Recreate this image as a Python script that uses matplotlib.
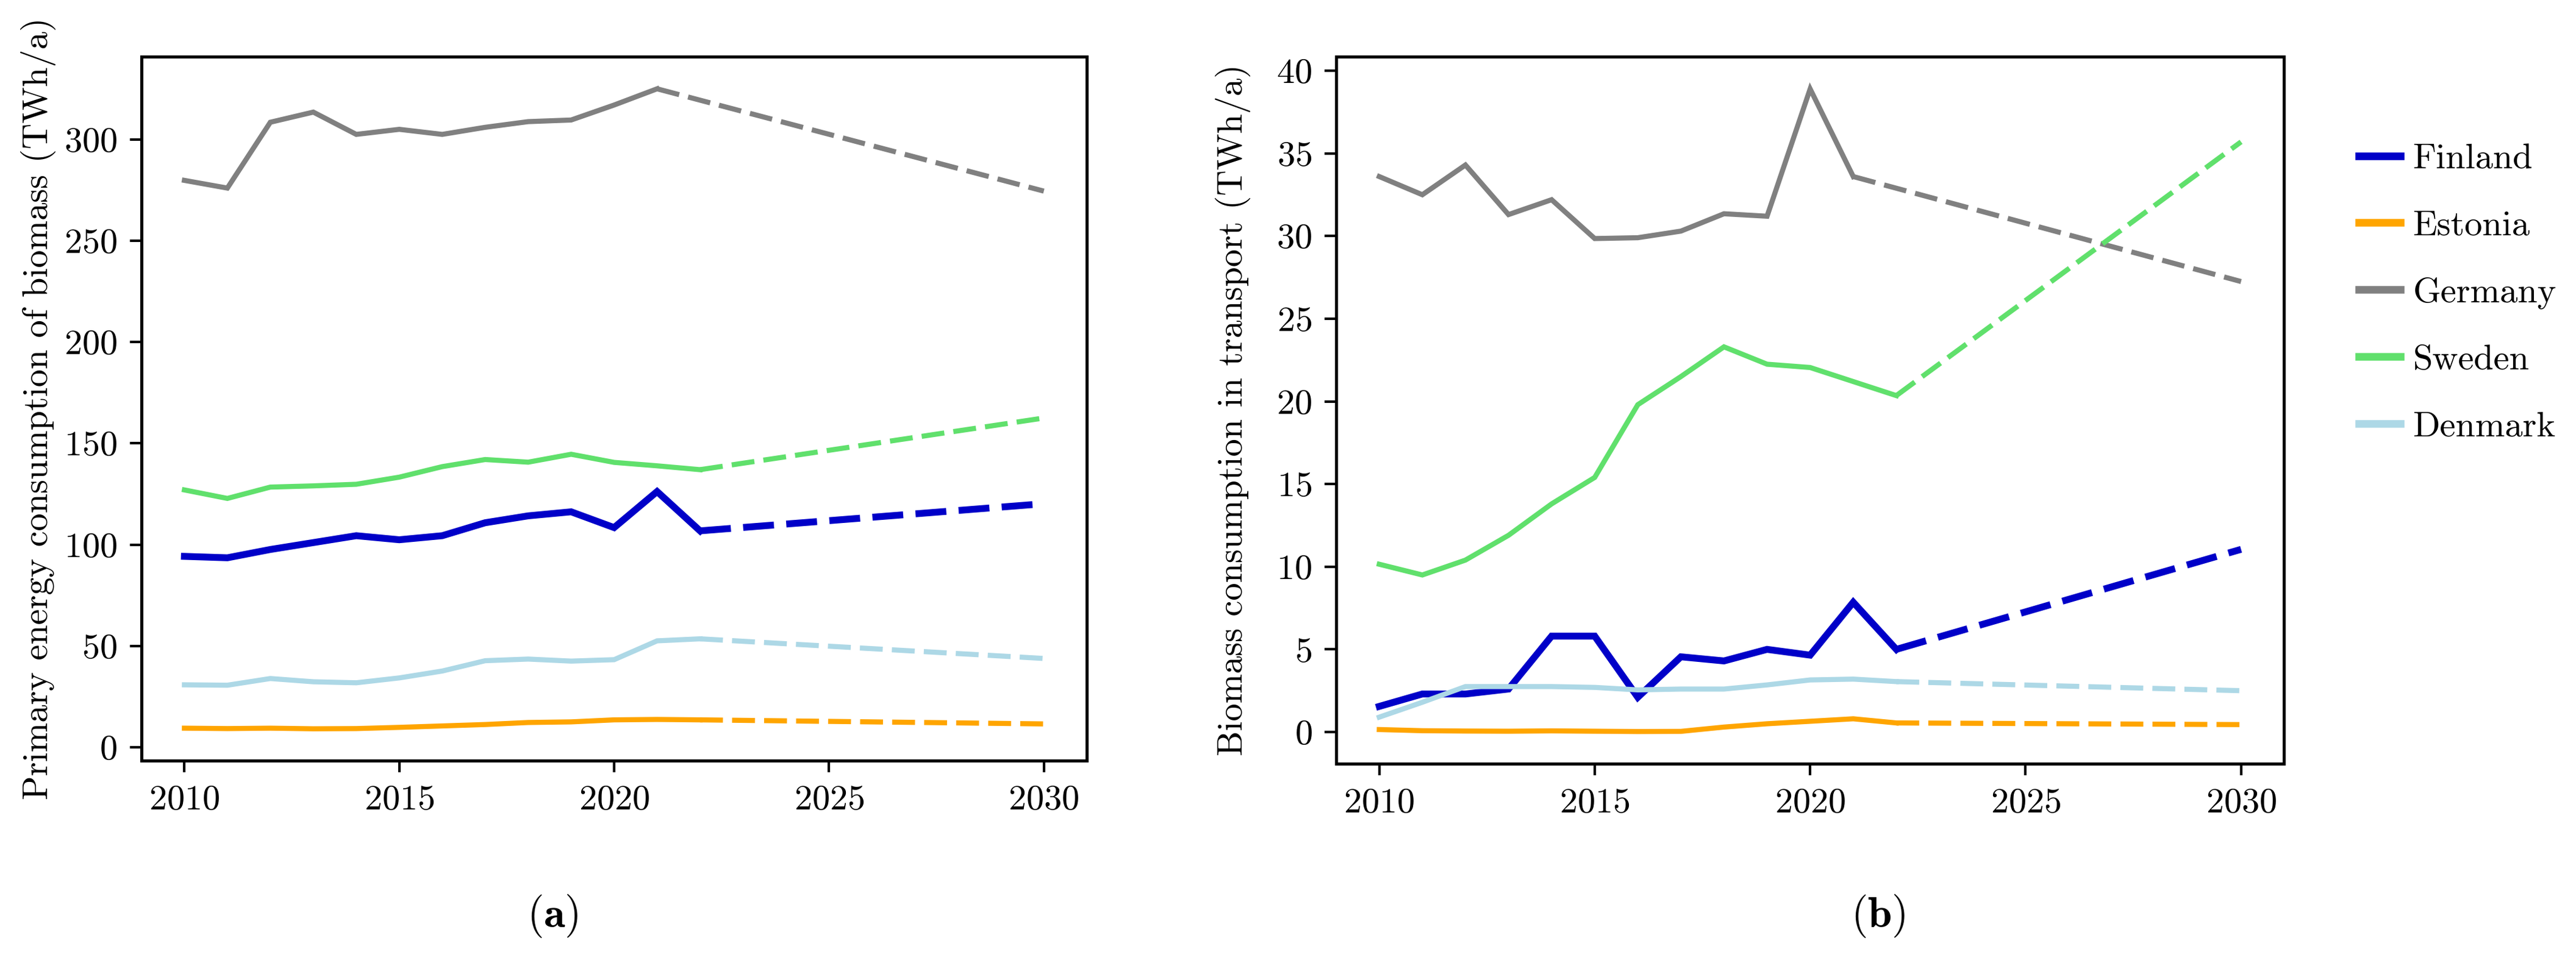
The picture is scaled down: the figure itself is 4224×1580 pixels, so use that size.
import matplotlib
matplotlib.use("Agg")
import matplotlib.pyplot as plt
from matplotlib.lines import Line2D

plt.rcParams["font.family"] = "serif"
plt.rcParams["font.serif"] = ["cmr10"]
plt.rcParams["mathtext.fontset"] = "cm"
plt.rcParams["axes.formatter.use_mathtext"] = True

# ------------------------------------------------------------
# Data
# ------------------------------------------------------------
countries = ["Finland", "Estonia", "Germany", "Sweden", "Denmark"]
colors = ["#0000c8", "#ffa500", "#808080", "#60e06c", "#add8e6"]

years = list(range(2010, 2023))        # historical data 2010-2022
years_de = list(range(2010, 2022))     # Germany only up to 2021
target_year = 2030

# (a) primary energy consumption of biomass, TWh/a
fi_primary = [94.2, 93.5, 97.6, 101.0, 104.4, 102.4, 104.4, 110.8, 114.2, 116.2, 108.4, 126.2, 106.8]
ee_primary = [9.4, 9.2, 9.4, 9.1, 9.2, 9.8, 10.5, 11.2, 12.2, 12.5, 13.5, 13.7, 13.5]
de_primary = [279.8, 276.0, 308.5, 313.5, 302.5, 305.0, 302.5, 306.0, 308.8, 309.6, 317.0, 325.0]
se_primary = [127.0, 122.8, 128.4, 129.0, 129.8, 133.3, 138.5, 142.0, 140.7, 144.6, 140.6, 138.9, 137.0]
dk_primary = [30.8, 30.6, 33.9, 32.3, 31.8, 34.2, 37.6, 42.7, 43.5, 42.5, 43.2, 52.5, 53.5]
primary_2030 = [120.2, 11.5, 274.5, 162.5, 43.8]

# (b) biomass consumption in transport, TWh/a
fi_transport = [1.55, 2.3, 2.3, 2.6, 5.8, 5.8, 2.1, 4.55, 4.3, 5.0, 4.65, 7.85, 5.0]
ee_transport = [0.15, 0.08, 0.06, 0.05, 0.07, 0.05, 0.03, 0.04, 0.3, 0.5, 0.65, 0.8, 0.55]
de_transport = [33.6, 32.5, 34.3, 31.3, 32.2, 29.85, 29.9, 30.3, 31.35, 31.2, 38.9, 33.6]
se_transport = [10.15, 9.5, 10.4, 11.9, 13.8, 15.4, 19.8, 21.5, 23.3, 22.25, 22.05, 21.2, 20.35]
dk_transport = [0.9, 1.8, 2.75, 2.75, 2.75, 2.7, 2.55, 2.6, 2.6, 2.85, 3.15, 3.2, 3.05]
transport_2030 = [11.05, 0.45, 27.25, 35.7, 2.5]

primary = [fi_primary, ee_primary, de_primary, se_primary, dk_primary]
transport = [fi_transport, ee_transport, de_transport, se_transport, dk_transport]


def draw_panel(ax, series, targets):
    for name, col, vals, tgt in zip(countries, colors, series, targets):
        xs = years_de if name == "Germany" else years
        lw = 2.7 if name == "Finland" else 2.0
        ax.plot(xs, vals, color=col, lw=lw, solid_joinstyle="miter")
        # projection to 2030
        ax.plot([xs[-1], target_year], [vals[-1], tgt], color=col, lw=lw,
                dashes=(4.5, 1.8))
    ax.set_xticks([2010, 2015, 2020, 2025, 2030])
    ax.tick_params(labelsize=14, length=4.5, width=1.0, pad=5)
    for sp in ax.spines.values():
        sp.set_linewidth(1.2)
    ax.yaxis.set_label_coords(-0.09, 0.5)


fig = plt.figure(figsize=(14.08, 5.2667), dpi=300)
ax1 = fig.add_axes([0.0549, 0.210, 0.367, 0.731])
ax2 = fig.add_axes([0.5187, 0.207, 0.368, 0.734])

draw_panel(ax1, primary, primary_2030)
ax1.set_ylabel("Primary energy consumption of biomass (TWh/a)", fontsize=14)
ax1.set_yticks([0, 50, 100, 150, 200, 250, 300])

draw_panel(ax2, transport, transport_2030)
ax2.set_ylabel("Biomass consumption in transport (TWh/a)", fontsize=14)
ax2.set_yticks([0, 5, 10, 15, 20, 25, 30, 35, 40])

handles = [Line2D([], [], color=c, lw=3) for c in colors]
fig.legend(handles, countries, loc="upper left", bbox_to_anchor=(0.9157, 0.851),
           frameon=False, fontsize=14, handlelength=1.17, handletextpad=0.35,
           labelspacing=0.99, borderpad=0, borderaxespad=0)

fig.text(0.2145, 0.049, r"$(\mathbf{a})$", ha="center", va="center", fontsize=17)
fig.text(0.729, 0.049, r"$(\mathbf{b})$", ha="center", va="center", fontsize=17)

fig.savefig("out.png", dpi=300)
